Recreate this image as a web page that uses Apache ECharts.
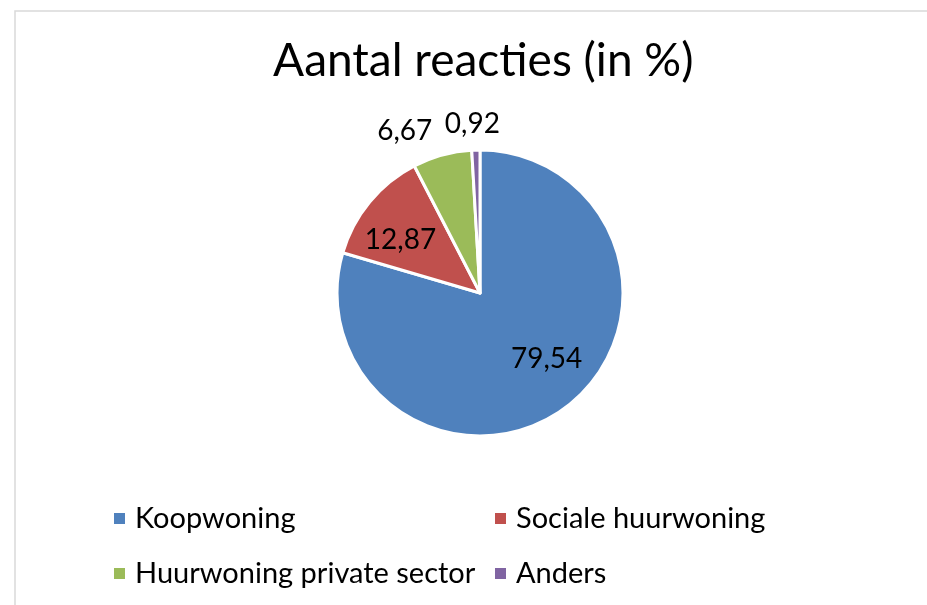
<!DOCTYPE html>
<html>
<head>
<meta charset="utf-8">
<script src="https://cdn.jsdelivr.net/npm/echarts@6/dist/echarts.min.js"></script>
<style>
  html, body { margin: 0; padding: 0; background: #fff; }
  #chart { width: 927px; height: 605px; }
</style>
</head>
<body>
<div id="chart"></div>
<script>
// categories and values (in %)
var categories = ['Koopwoning', 'Sociale huurwoning', 'Huurwoning private sector', 'Anders'];
var values = [79.54, 12.87, 6.67, 0.92];
var colors = ['#4F81BD', '#C0504D', '#9BBB59', '#8064A2'];
// which labels sit inside the slice
var insideLabel = [true, true, false, false];
var labelOffsets = [[22, 6], [-22, -6], [-5, -24], [29, -26]];

var font = 'Lato, "Open Sans", sans-serif';

var pieData = categories.map(function (name, i) {
  return {
    name: name,
    value: values[i],
    itemStyle: { color: colors[i] },
    label: insideLabel[i]
      ? { position: 'inside', offset: labelOffsets[i] }
      : { position: 'outside', offset: labelOffsets[i] },
    labelLine: { show: false, length: 0, length2: 0 }
  };
});

var legendText = { fontFamily: font, fontSize: 29, color: '#000', padding: [0, 0, 0, 4] };

var myChart = echarts.init(document.getElementById('chart'));
myChart.setOption({
  backgroundColor: '#fff',
  animation: false,
  title: {
    text: 'Aantal reacties (in %)',
    left: 268,
    top: 33,
    textStyle: { fontFamily: font, fontSize: 46, fontWeight: 'normal', color: '#000' }
  },
  graphic: [{
    type: 'rect',
    shape: { x: 15, y: 11, width: 930, height: 620 },
    style: { fill: 'none', stroke: '#d9d9d9', lineWidth: 1.5 },
    silent: true
  }],
  legend: [{
    orient: 'vertical',
    left: 107,
    top: 499,
    itemGap: 26,
    itemWidth: 13,
    itemHeight: 13,
    icon: 'rect',
    data: [categories[0], categories[2]],
    textStyle: legendText
  }, {
    orient: 'vertical',
    left: 488,
    top: 499,
    itemGap: 26,
    itemWidth: 13,
    itemHeight: 13,
    icon: 'rect',
    data: [categories[1], categories[3]],
    textStyle: legendText
  }],
  series: [{
    type: 'pie',
    center: [480, 293],
    radius: 143,
    startAngle: 90,
    clockwise: true,
    avoidLabelOverlap: false,
    itemStyle: { borderColor: '#fff', borderWidth: 3 },
    label: {
      show: true,
      fontFamily: font,
      fontSize: 28,
      color: '#000',
      formatter: function (p) { return p.value.toFixed(2).replace('.', ','); }
    },
    data: pieData
  }]
});
</script>
</body>
</html>
